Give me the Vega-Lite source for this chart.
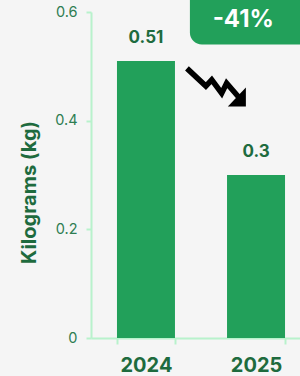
{
  "$schema": "https://vega.github.io/schema/vega-lite/v6.json",
  "width": 220,
  "height": 326,
  "autosize": "none",
  "padding": {"left": 91, "top": 12, "right": 0, "bottom": 38},
  "background": "#f5f5f5",
  "config": {
    "view": {"stroke": null},
    "font": "Inter"
  },
  "layer": [
    {
      "data": {"values": [{"year": "2024", "kg": 0.51}, {"year": "2025", "kg": 0.3}]},
      "mark": {"type": "bar", "color": "#22a05a"},
      "encoding": {
        "x": {
          "field": "year", "type": "nominal",
          "scale": {"paddingInner": 0.473, "paddingOuter": 0.236},
          "axis": {
            "title": null, "labelAngle": 0, "tickBand": "extent",
            "domainColor": "#b8f2cc", "domainWidth": 2, "tickColor": "#b8f2cc", "tickWidth": 2, "tickSize": 6,
            "labelFont": "Inter", "labelFontSize": 20, "labelFontWeight": "bold", "labelColor": "#1e6b3e",
            "labelPadding": 11
          }
        },
        "y": {
          "field": "kg", "type": "quantitative",
          "scale": {"domain": [0, 0.6], "nice": false},
          "axis": {
            "values": [0, 0.2, 0.4, 0.6], "grid": false, "format": "~g",
            "title": "Kilograms (kg)", "titleFont": "Inter", "titleFontSize": 20, "titleFontWeight": "bold", "titleColor": "#1e6b3e",
            "titleX": -62, "titleY": 180, "titleAngle": -90, "titleAlign": "center", "titleBaseline": "middle",
            "domainColor": "#b8f2cc", "domainWidth": 2, "tickColor": "#b8f2cc", "tickWidth": 2, "tickSize": 5,
            "labelFont": "Inter", "labelFontSize": 14.5, "labelColor": "#2e7d52", "labelPadding": 9
          }
        }
      }
    },
    {
      "data": {"values": [{"year": "2024", "kg": 0.51}, {"year": "2025", "kg": 0.3}]},
      "mark": {"type": "text", "baseline": "bottom", "dy": -14, "fontSize": 17, "fontWeight": "bold", "color": "#1e6b3e", "font": "Inter"},
      "encoding": {
        "x": {"field": "year", "type": "nominal"},
        "y": {"field": "kg", "type": "quantitative"},
        "text": {"field": "kg", "type": "quantitative"}
      }
    },
    {
      "data": {"values": [{"year": "2025", "lo": 0.54, "hi": 0.66}]},
      "mark": {"type": "rect", "color": "#22a05a", "cornerRadius": 12, "clip": false},
      "encoding": {
        "x": {"field": "year", "type": "nominal", "bandPosition": -0.64},
        "x2": {"field": "year", "bandPosition": 1.6},
        "y": {"field": "lo", "type": "quantitative"},
        "y2": {"field": "hi"}
      }
    },
    {
      "data": {"values": [{"year": "2025", "kg": 0.585, "label": "-41%"}]},
      "mark": {"type": "text", "color": "white", "fontSize": 24, "fontWeight": "bold", "font": "Inter", "baseline": "middle", "align": "center"},
      "encoding": {
        "x": {"field": "year", "type": "nominal", "bandPosition": 0.28},
        "y": {"field": "kg", "type": "quantitative"},
        "text": {"field": "label"}
      }
    },
    {
      "data": {"values": [{"year": "2025", "kg": 0.462}]},
      "mark": {"type": "point", "filled": false, "stroke": "black", "strokeWidth": 5.5, "strokeJoin": "miter", "opacity": 1,
        "shape": "M -0.9 -0.6 L -0.29 -0.03 L -0.1 -0.23 L 0.22 0.2 L 0.38 -0.12 L 0.85 0.42", "size": 3844},
      "encoding": {
        "x": {"field": "year", "type": "nominal", "bandPosition": -0.21},
        "y": {"field": "kg", "type": "quantitative"}
      }
    },
    {
      "data": {"values": [{"year": "2025", "kg": 0.462}]},
      "mark": {"type": "point", "filled": true, "color": "black", "opacity": 1,
        "shape": "M 1 0.02 L 1 0.63 L 0.42 0.63 Z", "size": 3844},
      "encoding": {
        "x": {"field": "year", "type": "nominal", "bandPosition": -0.21},
        "y": {"field": "kg", "type": "quantitative"}
      }
    }
  ]
}
